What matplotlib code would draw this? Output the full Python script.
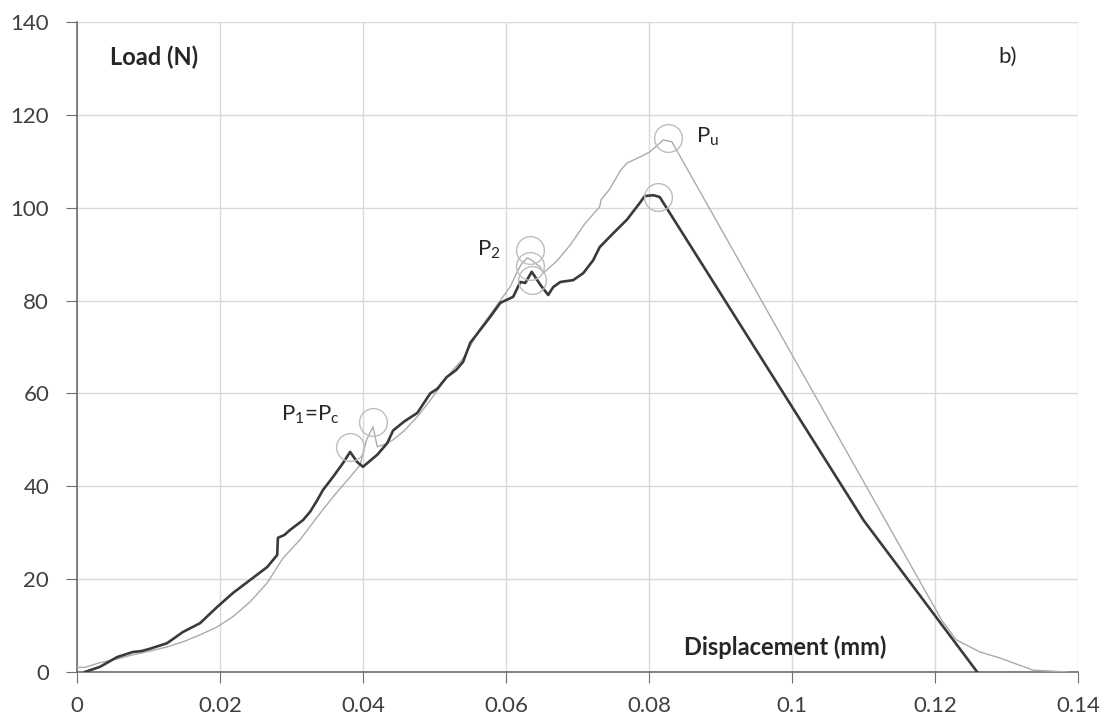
import matplotlib
matplotlib.use("Agg")
import matplotlib.pyplot as plt

plt.rcParams['font.family'] = ['Lato', 'DejaVu Sans']
plt.rcParams['mathtext.fontset'] = 'custom'
plt.rcParams['mathtext.rm'] = 'Lato'
plt.rcParams['mathtext.it'] = 'Lato'

# Provete escuro (linha grossa)
desl_a = [0.0011, 0.0032, 0.0056, 0.0078, 0.0090, 0.0102, 0.0126, 0.0148, 0.0172, 0.0196,
          0.0218, 0.0242, 0.0266, 0.0280, 0.0281, 0.0290, 0.0298, 0.0316, 0.0326, 0.0336,
          0.0344, 0.0358, 0.0372, 0.0382, 0.0392, 0.0400, 0.0410, 0.0420, 0.0434, 0.0442,
          0.0458, 0.0476, 0.0494, 0.0504, 0.0517, 0.0530, 0.0540, 0.0550, 0.0564, 0.0578,
          0.0592, 0.0610, 0.0620, 0.0627, 0.0636, 0.0648, 0.0659, 0.0666, 0.0676, 0.0694,
          0.0708, 0.0722, 0.0731, 0.0750, 0.0769, 0.0787, 0.0794, 0.0806, 0.0815, 0.1100,
          0.1259]
carga_a = [0.0, 1.1, 3.2, 4.3, 4.5, 5.0, 6.2, 8.6, 10.5, 14.0,
           17.0, 19.8, 22.6, 25.2, 28.9, 29.5, 30.6, 32.7, 34.5, 37.0,
           39.2, 42.0, 45.0, 47.4, 45.2, 44.2, 45.5, 46.8, 49.3, 52.0,
           54.0, 55.8, 60.0, 61.0, 63.5, 65.0, 66.8, 70.9, 73.7, 76.5,
           79.5, 80.8, 84.0, 83.8, 86.2, 83.4, 81.2, 82.9, 84.0, 84.4,
           85.9, 88.7, 91.5, 94.5, 97.4, 101.0, 102.5, 102.7, 102.3, 32.7,
           0.0]

# Provete cinzento (linha fina)
desl_b = [0.0, 0.0011, 0.0032, 0.0056, 0.0078, 0.0102, 0.0126, 0.0150, 0.0172, 0.0196,
          0.0218, 0.0242, 0.0266, 0.0288, 0.0312, 0.0336, 0.0358, 0.0382, 0.0396, 0.0405,
          0.0414, 0.0420, 0.0430, 0.0442, 0.0458, 0.0476, 0.0494, 0.0517, 0.0540, 0.0564,
          0.0592, 0.0606, 0.0615, 0.0622, 0.0630, 0.0636, 0.0648, 0.0652, 0.0671, 0.0690,
          0.0710, 0.0731, 0.0733, 0.0745, 0.0760, 0.0769, 0.0787, 0.0801, 0.0820, 0.0832,
          0.1210, 0.1230, 0.1263, 0.1291, 0.1337, 0.1385]
carga_b = [1.0, 1.0, 2.0, 2.8, 3.7, 4.5, 5.4, 6.6, 8.0, 9.7,
           11.9, 15.1, 19.2, 24.5, 28.5, 33.4, 37.7, 42.0, 44.6, 50.0,
           52.8, 48.5, 49.0, 50.0, 52.0, 55.0, 58.5, 63.5, 67.5, 74.0,
           80.0, 83.0, 86.0, 88.0, 89.2, 88.7, 87.2, 85.9, 88.5, 92.0,
           96.5, 100.2, 101.7, 104.0, 108.0, 109.6, 110.9, 112.0, 114.6, 114.2,
           11.0, 6.9, 4.3, 3.0, 0.4, 0.0]

# Pontos caracteristicos (P1, P2, Pu)
circ_x = [0.0382, 0.0414, 0.0634, 0.0634, 0.0636, 0.0813, 0.0827]
circ_y = [48.5, 53.9, 90.9, 87.5, 84.5, 102.3, 115.0]

fig = plt.figure(figsize=(11.11, 7.26), dpi=100)
ax = fig.add_axes([0.0693, 0.0744, 0.9010, 0.8953])

ax.plot(desl_b, carga_b, color='#ababab', linewidth=1.0, zorder=3)
ax.plot(desl_a, carga_a, color='#3a3a3a', linewidth=1.9, zorder=4)
ax.plot(circ_x, circ_y, 'o', markersize=20, markerfacecolor='none',
        markeredgecolor='#bdbdbd', markeredgewidth=1.0, zorder=5)

ax.set_xlim(0, 0.14)
ax.set_ylim(0, 140)
ax.set_xticks([0, 0.02, 0.04, 0.06, 0.08, 0.1, 0.12, 0.14])
ax.set_xticklabels(['0', '0.02', '0.04', '0.06', '0.08', '0.1', '0.12', '0.14'])
ax.set_yticks(range(0, 141, 20))
ax.grid(True, color='#d9d9d9', linewidth=1.0)
ax.set_axisbelow(True)

for s in ['top', 'right']:
    ax.spines[s].set_visible(False)
for s in ['left', 'bottom']:
    ax.spines[s].set_color('#6e6e6e')
    ax.spines[s].set_linewidth(1.2)
ax.tick_params(axis='both', direction='out', length=8, color='#6e6e6e',
               labelsize=16, labelcolor='#404040')
ax.tick_params(axis='x', pad=9)
ax.tick_params(axis='y', pad=12)

ax.text(0.0046, 132.5, 'Load (N)', fontsize=17, fontweight='bold', color='#262626', va='center')
ax.text(0.1288, 132.5, 'b)', fontsize=16, color='#262626', va='center')
ax.text(0.0849, 5.4, 'Displacement (mm)', fontsize=17, fontweight='bold', color='#262626', va='center')
ax.text(0.0285, 55.3, r'P$_{\mathregular{1}}$=P$_{\mathregular{c}}$', fontsize=16, color='#262626', va='center')
ax.text(0.0560, 91.0, r'P$_{\mathregular{2}}$', fontsize=16, color='#262626', va='center')
ax.text(0.0866, 115.3, r'P$_{\mathregular{u}}$', fontsize=16, color='#262626', va='center')

fig.savefig('out.png', dpi=100)
